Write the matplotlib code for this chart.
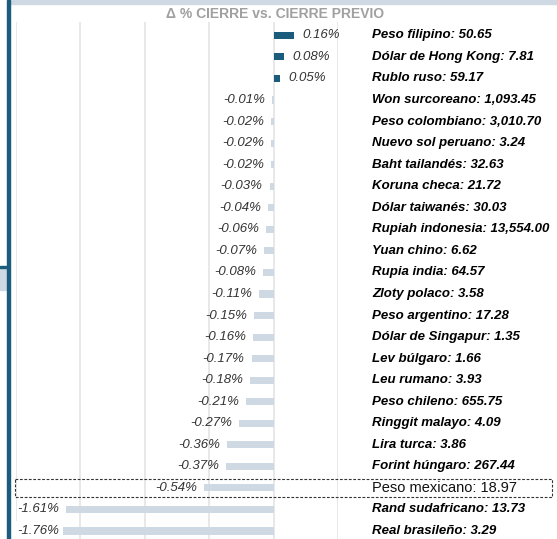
import matplotlib
matplotlib.use("Agg")
import matplotlib.pyplot as plt
from matplotlib.patches import Rectangle
import matplotlib.transforms as mtransforms

# Datos: divisas, tipo de cambio y variacion % vs cierre previo
divisas = ['Peso filipino', 'Dólar de Hong Kong', 'Rublo ruso', 'Won surcoreano',
           'Peso colombiano', 'Nuevo sol peruano', 'Baht tailandés', 'Koruna checa',
           'Dólar taiwanés', 'Rupiah indonesia', 'Yuan chino', 'Rupia india',
           'Zloty polaco', 'Peso argentino', 'Dólar de Singapur', 'Lev búlgaro',
           'Leu rumano', 'Peso chileno', 'Ringgit malayo', 'Lira turca',
           'Forint húngaro', 'Peso mexicano', 'Rand sudafricano', 'Real brasileño']
tipo_cambio = [50.65, 7.81, 59.17, 1093.45, 3010.70, 3.24, 32.63, 21.72, 30.03,
               13554.00, 6.62, 64.57, 3.58, 17.28, 1.35, 1.66, 3.93, 655.75, 4.09,
               3.86, 267.44, 18.97, 13.73, 3.29]
variacion = [0.16, 0.08, 0.05, -0.01, -0.02, -0.02, -0.02, -0.03, -0.04, -0.06,
             -0.07, -0.08, -0.11, -0.15, -0.16, -0.17, -0.18, -0.21, -0.27, -0.36,
             -0.37, -0.54, -1.61, -1.76]
destacada = 'Peso mexicano'

OSCURO = '#1b5b7b'
CLARO = '#cfd9e4'

plt.rcParams['font.family'] = ['Liberation Sans', 'DejaVu Sans']

W, H = 557, 539
fig = plt.figure(figsize=(W / 100, H / 100), dpi=100)

# decoracion de la pagina (recorte de pantalla)
fig.patches.append(Rectangle((10 / W, 1 - 4 / H), 1, 4 / H, transform=fig.transFigure,
                             color=CLARO, zorder=0))
fig.patches.append(Rectangle((7 / W, 0), 3 / W, 1, transform=fig.transFigure,
                             color=OSCURO, zorder=1))
fig.patches.append(Rectangle((0, 1 - 290 / H), 7 / W, 22 / H, transform=fig.transFigure,
                             color=CLARO, zorder=0))
fig.patches.append(Rectangle((0, 1 - 268 / H), 7 / W, 2 / H, transform=fig.transFigure,
                             color=OSCURO, zorder=1))

x0, x1 = 15.5, 338.0
ax = fig.add_axes([x0 / W, 0, (x1 - x0) / W, (H - 22) / H])
ax.set_xlim(-2.0, 0.5)
ax.set_ylim(23.37, -0.62)
for s in ax.spines.values():
    s.set_visible(False)
ax.tick_params(left=False, bottom=False, labelleft=False, labelbottom=False)
ax.set_xticks([-2.0, -1.5, -1.0, -0.5, 0.0, 0.5])
ax.grid(axis='x', color='#e6e6e6', linewidth=1.3)
ax.set_axisbelow(True)

filas = list(range(len(divisas)))
colores = [OSCURO if v > 0 else CLARO for v in variacion]
ax.barh(filas, variacion, height=0.33, color=colores, zorder=2)

trans_nombres = mtransforms.blended_transform_factory(fig.transFigure, ax.transData)
for i, (nom, tc, v) in enumerate(zip(divisas, tipo_cambio, variacion)):
    etiqueta = f'{v:.2f}%'
    if v > 0:
        ax.annotate(etiqueta, (v, i), xytext=(6, 0), textcoords='offset points',
                    ha='left', va='center', fontsize=9.5, style='italic', color='#333333')
    elif v < -1.65:
        # no cabe a la izquierda de la barra: se pone dentro, sobre fondo blanco
        ax.annotate(etiqueta, (-2.0, i), xytext=(1, 0), textcoords='offset points',
                    ha='left', va='center', fontsize=9.5, style='italic', color='#333333',
                    zorder=3, bbox=dict(boxstyle='square,pad=0.3', fc='white', ec='none'))
    else:
        ax.annotate(etiqueta, (v, i), xytext=(-5, 0), textcoords='offset points',
                    ha='right', va='center', fontsize=9.5, style='italic', color='#333333')

    texto = f'{nom}: {tc:,.2f}'
    if nom == destacada:
        fig.text(372 / W, i, texto, transform=trans_nombres, ha='left', va='center',
                 fontsize=10.5, color='#111111')
        ax.add_patch(Rectangle((15 / W, i - 0.4), (552 - 15) / W, 0.8,
                               transform=trans_nombres, fill=False, ec='#333333',
                               lw=0.8, ls=(0, (2.5, 1.5)), clip_on=False, zorder=4))
    else:
        fig.text(372 / W, i, texto, transform=trans_nombres, ha='left', va='center',
                 fontsize=9.5, weight='bold', style='italic', color='black')

fig.text(275 / W, 1 - 14 / H, 'Δ % CIERRE vs. CIERRE PREVIO', ha='center', va='center',
         fontsize=10, weight='bold', color='#a0a0a0')

fig.savefig('out.png', dpi=100)
